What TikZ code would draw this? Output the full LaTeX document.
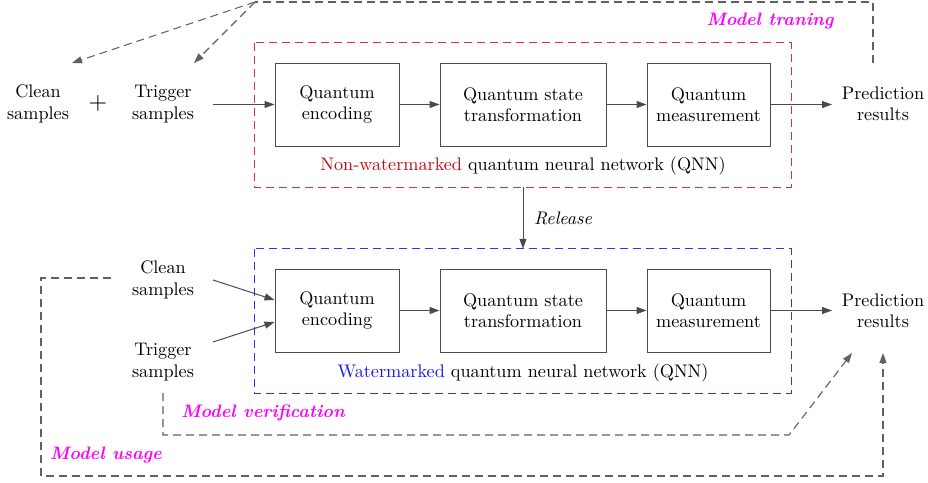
\documentclass[tikz,border=0pt]{standalone}
\usepackage{fontspec}
\setmainfont{lmroman10}[Extension=.otf, UprightFont=*-regular, ItalicFont=*-italic, BoldFont=*-bold, BoldItalicFont=*-bolditalic]
\usetikzlibrary{arrows.meta}
\definecolor{linegray}{RGB}{74,74,74}
\definecolor{dashgray}{RGB}{96,96,96}
\definecolor{regionred}{RGB}{215,50,65}
\definecolor{txtred}{RGB}{190,10,20}
\definecolor{regionblue}{RGB}{50,50,240}
\definecolor{txtblue}{RGB}{21,21,240}
\definecolor{mag}{RGB}{255,0,255}
\begin{document}
\begin{tikzpicture}[x=1pt,y=-1pt,
  font=\fontsize{18.2}{21.5}\selectfont,
  every node/.style={inner sep=0pt, align=center},
  qbox/.style={draw=linegray, line width=1pt, minimum height=83pt},
  arr/.style={draw=linegray, line width=1pt, -{Triangle[length=10pt,width=7pt]}},
  darr/.style={draw=dashgray, line width=1.1pt, dash pattern=on 8pt off 5pt, -{Triangle[length=10pt,width=7pt]}},
  dline/.style={draw=dashgray, line width=1.1pt, dash pattern=on 8pt off 5pt},
  regred/.style={draw=regionred, line width=1.3pt, dash pattern=on 8pt off 5pt},
  regblue/.style={draw=regionblue, line width=1.3pt, dash pattern=on 8pt off 5pt},
  phase/.style={text=mag, font=\fontsize{18}{21.5}\selectfont\bfseries\itshape}
]
\useasboundingbox (0,0) rectangle (928,482);

% ---------- regions ----------
\node[minimum width=536pt, minimum height=144pt] (nwbox) at (523,115) {};
\node[minimum width=536pt, minimum height=144pt] (wbox) at (523,321) {};
\draw[regred] (nwbox.north west) rectangle (nwbox.south east);
\draw[regblue] (wbox.north west) rectangle (wbox.south east);

% ---------- top: model training ----------
\node (cleanT) at (38,104) {Clean\\samples};
\node (plus) at (98,103) {\fontsize{24}{24}\selectfont +};
\node (trigT) at (163,104) {Trigger\\samples};
\node[qbox, minimum width=124pt] (enc1) at (337,104.5) {Quantum\\encoding};
\node[qbox, minimum width=166pt] (st1) at (523,104.5) {Quantum state\\transformation};
\node[qbox, minimum width=123pt] (meas1) at (708.5,104.5) {Quantum\\measurement};
\node (pred1) at (883,104) {Prediction\\results};
\node (lbl1) at (523,166) {\textcolor{txtred}{Non-watermarked} quantum neural network (QNN)};
\node[phase] (mt) at (770,21) {Model traning};

\coordinate (tin) at (213,104.5);
\coordinate (pin1) at (832,104.5);
\draw[arr] (tin) -- (enc1);
\draw[arr] (enc1) -- (st1);
\draw[arr] (st1) -- (meas1);
\draw[arr] (meas1.east) -- (pin1);

\coordinate (tp) at (255,2);
\coordinate (tpr) at (873,2);
\coordinate (tpe) at (873,63);
\coordinate (ca) at (72,63);
\coordinate (ta) at (194,63);
\draw[dline] (tpe) -- (tpr) -- (tp);
\draw[darr] (tp) -- (ca);
\draw[darr] (tp) -- (ta);

% ---------- release ----------
\draw[arr] (nwbox.south) -- (wbox.north);
\node (rel) at (563,218) {\itshape Release};

% ---------- bottom: verification / usage ----------
\node (cleanB) at (163,280) {Clean\\samples};
\node (trigB) at (163,362) {Trigger\\samples};
\node[qbox, minimum width=124pt] (enc2) at (337,310.5) {Quantum\\encoding};
\node[qbox, minimum width=166pt] (st2) at (523,310.5) {Quantum state\\transformation};
\node[qbox, minimum width=123pt] (meas2) at (708.5,310.5) {Quantum\\measurement};
\node (pred2) at (883,311) {Prediction\\results};
\node (lbl2) at (523,373) {\textcolor{txtblue}{Watermarked} quantum neural network (QNN)};

\coordinate (cb) at (213,280);
\coordinate (tb) at (213,342);
\coordinate (pin2) at (832,310.5);
\draw[arr] (cb) -- (enc2.west |- 0,300);
\draw[arr] (tb) -- (enc2.west |- 0,322);
\draw[arr] (enc2) -- (st2);
\draw[arr] (st2) -- (meas2);
\draw[arr] (meas2.east) -- (pin2);

\coordinate (vs) at (163,393);
\coordinate (vc1) at (163,435);
\coordinate (vc2) at (789,435);
\coordinate (ve) at (852,353);
\draw[darr] (vs) -- (vc1) -- (vc2) -- (ve);
\node[phase] (mv) at (263,413) {Model verification};

\coordinate (us) at (111,278);
\coordinate (uc1) at (41,278);
\coordinate (uc2) at (41,476);
\coordinate (uc3) at (883,476);
\coordinate (ue) at (883,353);
\draw[darr] (us) -- (uc1) -- (uc2) -- (uc3) -- (ue);
\node[phase] (mu) at (106,455) {Model usage};
\end{tikzpicture}
\end{document}
